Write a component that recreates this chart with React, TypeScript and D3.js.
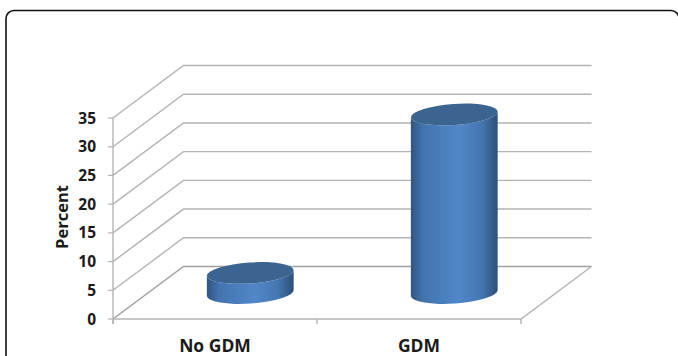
import React from "react";
import * as d3 from "d3";

const categories = ["No GDM", "GDM"];
const percentValues = [3.5, 31.1];
const yTicks = [0, 5, 10, 15, 20, 25, 30, 35];

const FONT = "'Open Sans', 'Noto Sans', sans-serif";
const TEXT = "#1a1a1a";
const GRID = "#b4b4b4";

// Oblique projection of the 3D chart box
const depthX = 70.5;
const depthY = 52.5;
const rx = 43.5;
const ry = 10.5;
const tilt = -4;

const x = d3.scaleBand<string>().domain(categories).range([113, 521]);
const y = d3.scaleLinear().domain([0, 35]).range([319, 118]);

function ellipseEnds(cx: number, cy: number) {
  const rad = (tilt * Math.PI) / 180;
  const dx = rx * Math.cos(rad);
  const dy = rx * Math.sin(rad);
  return { x0: cx - dx, y0: cy - dy, x1: cx + dx, y1: cy + dy };
}

function Cylinder({ name, value }: { name: string; value: number }) {
  const cx = x(name)! + x.bandwidth() / 2 + depthX / 2;
  const base = y(0) - depthY / 2 + 0.3;
  const top = base - (y(0) - y(value));
  const t = ellipseEnds(cx, top);
  const b = ellipseEnds(cx, base);
  const body = `M${t.x0},${t.y0} L${b.x0},${b.y0} A${rx},${ry} ${tilt} 0 0 ${b.x1},${b.y1} L${t.x1},${t.y1} A${rx},${ry} ${tilt} 0 1 ${t.x0},${t.y0} Z`;
  return (
    <g>
      <path d={body} fill="url(#cylinderBody)" />
      <ellipse cx={cx} cy={top} rx={rx} ry={ry} transform={`rotate(${tilt} ${cx} ${top})`} fill="#3c6491" />
    </g>
  );
}

export default function App() {
  return (
    <svg
      width={678}
      height={356}
      style={{ position: "fixed", left: 0, top: 0, display: "block", background: "#fff" }}
    >
      <defs>
        <linearGradient id="cylinderBody" x1="0" x2="1" y1="0" y2="0">
          <stop offset="0" stopColor="#2f5583" />
          <stop offset="0.14" stopColor="#4274ae" />
          <stop offset="0.55" stopColor="#5187c9" />
          <stop offset="0.82" stopColor="#4476b0" />
          <stop offset="1" stopColor="#2e4e75" />
        </linearGradient>
      </defs>

      {/* Card outline, running off the bottom and right edges */}
      <rect x={6} y={10.5} width={673} height={370} rx={8} fill="#fff" stroke="#111" strokeWidth={1.6} />

      {/* Side wall and back wall gridlines */}
      {yTicks.map((t) => {
        const py = y(t);
        return (
          <g key={t}>
            <polyline
              points={`${x.range()[0]},${py} ${x.range()[0] + depthX},${py - depthY} ${x.range()[1] + depthX},${py - depthY}`}
              fill="none"
              stroke={t === 0 ? "#a0a0a0" : GRID}
              strokeWidth={1.4}
            />
            <line x1={108} x2={113} y1={py} y2={py} stroke={GRID} strokeWidth={1.2} />
            <text
              x={96}
              y={py}
              dy="0.36em"
              textAnchor="end"
              fontFamily={FONT}
              fontWeight={700}
              fontSize={15.5}
              fill={TEXT}
            >
              {t}
            </text>
          </g>
        );
      })}

      {/* Value axis and floor */}
      <line x1={113} x2={113} y1={y(35)} y2={y(0) + 5} stroke={GRID} strokeWidth={1.4} />
      <polyline
        points={`${x.range()[0]},${y(0)} ${x.range()[1]},${y(0)} ${x.range()[1] + depthX},${y(0) - depthY}`}
        fill="none"
        stroke={GRID}
        strokeWidth={1.4}
      />
      {[...categories.map((c) => x(c)!), x.range()[1]].map((px) => (
        <line key={px} x1={px} x2={px} y1={y(0)} y2={y(0) + 5} stroke={GRID} strokeWidth={1.4} />
      ))}

      {categories.map((c, i) => (
        <Cylinder key={c} name={c} value={percentValues[i]} />
      ))}

      {categories.map((c) => (
        <text
          key={c}
          x={x(c)! + x.bandwidth() / 2}
          y={346}
          dy="0.36em"
          textAnchor="middle"
          fontFamily={FONT}
          fontWeight={700}
          fontSize={17.5}
          fill={TEXT}
        >
          {c}
        </text>
      ))}

      <text
        transform="translate(62,217) rotate(-90)"
        dy="0.36em"
        textAnchor="middle"
        fontFamily={FONT}
        fontWeight={700}
        fontSize={16.5}
        fill={TEXT}
      >
        Percent
      </text>
    </svg>
  );
}
